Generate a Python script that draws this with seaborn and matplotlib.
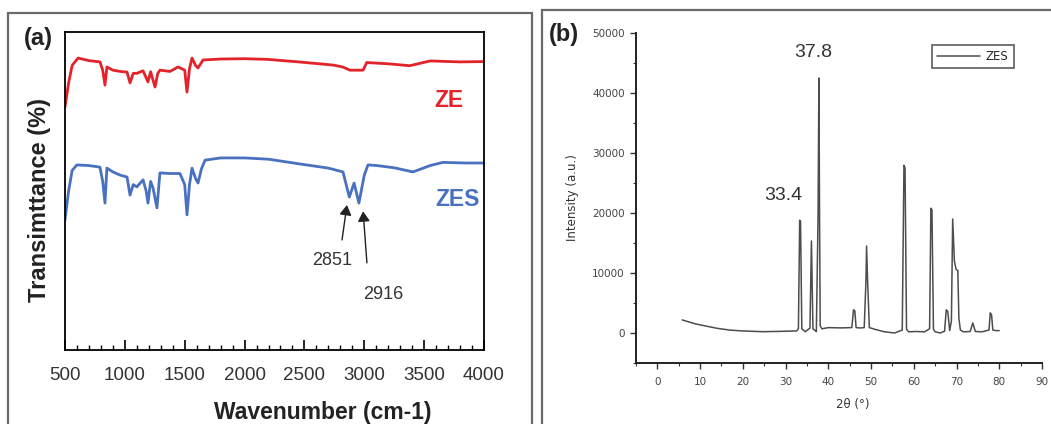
import numpy as np
import pandas as pd
import matplotlib
matplotlib.use("Agg")
import matplotlib.pyplot as plt
from matplotlib.patches import Rectangle
from matplotlib.ticker import MultipleLocator
import seaborn as sns

# ---------------- data ----------------
# FTIR, panel (a): wavenumber (cm-1) and transmittance (arb. offset units)
ze_wn = [500, 530, 560, 609, 700, 792, 815, 834, 850, 900, 960, 1018, 1043, 1070,
         1100, 1152, 1193, 1215, 1252, 1275, 1293, 1377, 1444, 1500, 1519, 1540,
         1561, 1590, 1611, 1653, 1800, 2000, 2190, 2450, 2740, 2820, 2880, 2990,
         3020, 3200, 3380, 3550, 3800, 4000]
ze_t = [76.4, 84.0, 89.5, 91.8, 91.0, 90.6, 88.0, 83.3, 89.0, 88.0, 87.6, 87.4,
        84.0, 87.0, 87.0, 87.8, 84.3, 87.5, 82.7, 87.0, 88.0, 87.6, 89.0, 88.0,
        81.1, 88.5, 91.8, 89.5, 88.7, 91.2, 91.5, 91.6, 91.4, 90.6, 89.6, 89.0,
        88.0, 88.0, 90.4, 90.0, 89.4, 90.9, 90.6, 90.7]

zes_wn = [500, 530, 560, 600, 700, 792, 815, 834, 850, 900, 960, 1018, 1043, 1070,
          1100, 1152, 1178, 1193, 1215, 1235, 1268, 1293, 1377, 1460, 1500, 1519,
          1540, 1561, 1590, 1611, 1640, 1670, 1800, 2000, 2200, 2463, 2700, 2822,
          2875, 2915, 2955, 3000, 3031, 3106, 3250, 3407, 3550, 3657, 3850, 4000]
zes_t = [40.9, 50.0, 56.5, 58.2, 58.0, 57.5, 53.0, 46.2, 57.2, 56.0, 55.0, 54.4,
         48.7, 52.0, 51.3, 53.5, 50.0, 46.2, 53.0, 51.0, 44.7, 55.7, 55.5, 55.5,
         52.0, 42.5, 52.0, 57.2, 54.0, 52.5, 57.0, 59.7, 60.4, 60.4, 60.0, 58.5,
         57.2, 56.0, 48.1, 52.5, 46.2, 55.0, 58.2, 58.0, 57.3, 56.0, 58.0, 59.0,
         58.8, 58.8]

# XRD, panel (b): 2-theta (deg) and intensity (a.u.)
xrd_2theta = [5.8, 9.0, 13.9, 17.0, 20.1, 24.6, 28.0, 32.6, 33.0, 33.3, 33.5, 33.8,
              34.6, 35.7, 36.05, 36.4, 37.2, 37.6, 37.8, 37.95, 38.1, 38.5, 40.0,
              43.0, 45.5, 45.9, 46.2, 46.5, 47.5, 48.4, 48.8, 48.95, 49.2, 49.6,
              51.0, 53.0, 55.5, 57.3, 57.7, 57.95, 58.3, 58.8, 60.5, 62.5, 63.7,
              64.0, 64.25, 64.6, 65.0, 66.2, 67.2, 67.6, 67.95, 68.4, 68.8, 69.1,
              69.5, 69.9, 70.3, 70.55, 70.9, 71.6, 73.2, 73.8, 74.4, 76.0, 77.6,
              77.9, 78.2, 78.5, 79.2, 80.0]
xrd_int = [2180, 1500, 790, 480, 340, 220, 260, 340, 700, 18800, 18600, 700,
           220, 800, 15350, 700, 220, 19500, 42500, 19500, 1200, 700, 900,
           850, 900, 3870, 3700, 900, 840, 900, 8500, 14500, 8500, 900,
           600, 220, 0, 500, 27950, 27500, 600, 200, 250, 200, 700,
           20800, 20500, 600, 200, 0, 300, 3870, 3600, 400, 2000, 19000,
           12000, 10600, 10400, 2500, 500, 200, 250, 1680, 250, 200, 500,
           3360, 3000, 500, 400, 400]

ftir_xticks = [500, 1000, 1500, 2000, 2500, 3000, 3500, 4000]
xrd_xticks = [0, 10, 20, 30, 40, 50, 60, 70, 80, 90]
xrd_yticks = [0, 10000, 20000, 30000, 40000, 50000]

RED = "#e3232a"
BLUE = "#4a70c0"
GRAY = "#4d4d4d"

# ---------------- figure ----------------
sns.set_theme(style="ticks")
plt.rcParams["font.family"] = ["Liberation Sans", "DejaVu Sans"]

W, H = 1051, 424
fig = plt.figure(figsize=(W / 100, H / 100), dpi=100)
fig.patch.set_facecolor("white")

def fx(px):
    return px / W

def fy(py):
    return 1 - py / H

# panel frames
fig.patches.append(Rectangle((fx(8), fy(426)), fx(532) - fx(8), fy(13) - fy(426),
                             transform=fig.transFigure, fill=False,
                             edgecolor="#6a6a6a", lw=1.6, zorder=0))
fig.patches.append(Rectangle((fx(542), fy(426)), fx(1053) - fx(542), fy(10) - fy(426),
                             transform=fig.transFigure, fill=False,
                             edgecolor="#6a6a6a", lw=1.6, zorder=0))

# ---------------- panel (a) ----------------
axa = fig.add_axes([fx(65), fy(350), fx(484) - fx(65), fy(32) - fy(350)])
df_ze = pd.DataFrame({"wn": ze_wn, "t": ze_t})
df_zes = pd.DataFrame({"wn": zes_wn, "t": zes_t})
sns.lineplot(data=df_ze, x="wn", y="t", ax=axa, color=RED, lw=2.0, sort=False)
sns.lineplot(data=df_zes, x="wn", y="t", ax=axa, color=BLUE, lw=2.0, sort=False)
axa.set_xlim(500, 4000)
axa.set_ylim(0, 100)
axa.set_xticks(ftir_xticks)
axa.xaxis.set_minor_locator(MultipleLocator(100))
axa.set_yticks([])
axa.tick_params(axis="x", which="major", direction="in", length=7, width=1.2,
                labelsize=13.5, pad=12, labelcolor="#333333", color="black")
axa.tick_params(axis="x", which="minor", direction="in", length=3.5, width=1.0,
                color="black")
for s in axa.spines.values():
    s.set_visible(True)
    s.set_color("black")
    s.set_linewidth(1.3)
axa.set_xlabel("Wavenumber (cm-1)", fontsize=16.5, fontweight="bold", color="#222222")
axa.xaxis.label.set_va("center")
axa.xaxis.set_label_coords(0.616, -0.195)
axa.set_ylabel("Transimttance (%)", fontsize=17, fontweight="bold", color="#222222")
axa.yaxis.set_label_coords(-0.033, 0.472)
axa.text(3707, 78.6, "ZE", color=RED, fontsize=16.5, fontweight="bold",
         ha="center", va="center")
axa.text(3775, 47.2, "ZES", color=BLUE, fontsize=16.5, fontweight="bold",
         ha="center", va="center")
arrow_kw = dict(arrowstyle="-|>,head_length=0.5,head_width=0.3", color="#222222",
                lw=1.0, shrinkA=0, shrinkB=0)
axa.annotate("", xy=(2855, 45.6), xytext=(2814, 34.6), arrowprops=arrow_kw)
axa.annotate("", xy=(2990, 43.6), xytext=(3022, 27.4), arrowprops=arrow_kw)
axa.text(2730, 28.3, "2851", fontsize=13, ha="center", va="center", color="#333333")
axa.text(3156, 17.3, "2916", fontsize=13, ha="center", va="center", color="#333333")
fig.text(fx(38), fy(39), "(a)", fontsize=17, fontweight="bold", ha="center",
         va="center", color="#222222")

# ---------------- panel (b) ----------------
axb = fig.add_axes([fx(636), fy(363), fx(1042) - fx(636), fy(33) - fy(363)])
df_x = pd.DataFrame({"two_theta": xrd_2theta, "intensity": xrd_int})
sns.lineplot(data=df_x, x="two_theta", y="intensity", ax=axb, color=GRAY, lw=1.1,
             sort=False, label="ZES")
axb.set_xlim(-5, 90)
axb.set_ylim(-5000, 50000)
axb.set_xticks(xrd_xticks)
axb.set_yticks(xrd_yticks)
axb.set_yticklabels([str(v) for v in xrd_yticks])
axb.xaxis.set_minor_locator(MultipleLocator(5))
axb.yaxis.set_minor_locator(MultipleLocator(5000))
axb.tick_params(which="major", direction="out", length=4, width=1.0,
                labelsize=7.5, labelcolor="#444444", color="#333333")
axb.tick_params(axis="x", which="major", pad=6)
axb.tick_params(axis="y", which="major", pad=4)
for lab in axb.get_xticklabels() + axb.get_yticklabels():
    lab.set_fontfamily("DejaVu Sans")
axb.tick_params(which="minor", direction="out", length=2, width=0.8, color="#333333")
sns.despine(ax=axb)
for s in ("left", "bottom"):
    axb.spines[s].set_color("#222222")
    axb.spines[s].set_linewidth(1.4)
axb.set_xlabel("2θ (°)", fontsize=8.5, color="#333333", family="DejaVu Sans")
axb.xaxis.label.set_va("center")
axb.xaxis.set_label_coords(0.534, -0.127)
axb.set_ylabel("Intensity (a.u.)", fontsize=8.5, color="#333333", family="DejaVu Sans")
axb.yaxis.set_label_coords(-0.14, 0.5)
axb.text(36.4, 46700, "37.8", fontsize=14, ha="center", va="center", color="#333333")
axb.text(29.4, 22860, "33.4", fontsize=14, ha="center", va="center", color="#333333")
leg = axb.legend(loc="upper right", bbox_to_anchor=(0.93, 0.965), fontsize=8.5,
                 frameon=True, fancybox=False, handlelength=3.6, borderpad=0.45,
                 handletextpad=0.5, borderaxespad=0, prop={"family": "DejaVu Sans", "size": 8.5})
leg.get_frame().set_edgecolor("#333333")
leg.get_frame().set_linewidth(1.2)
fig.text(fx(564), fy(35), "(b)", fontsize=17, fontweight="bold", ha="center",
         va="center", color="#222222")

fig.savefig("out.png", dpi=100, facecolor="white")
